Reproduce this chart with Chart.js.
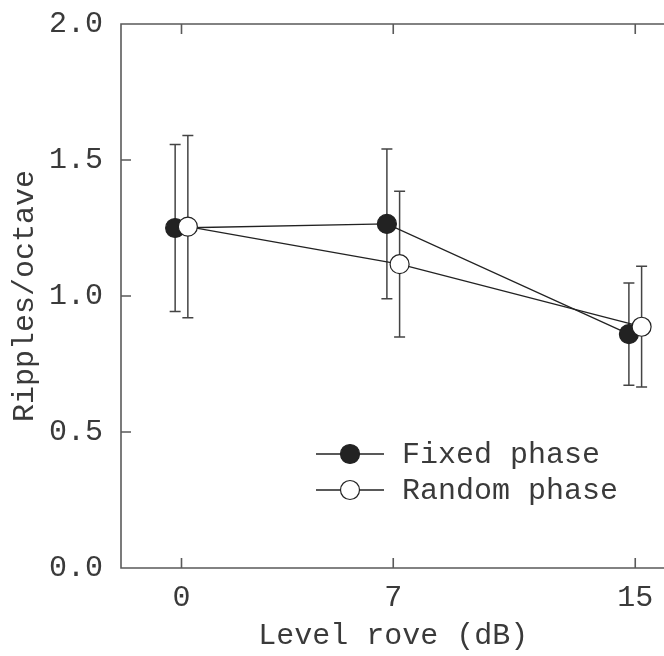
<!DOCTYPE html>
<html>
<head>
<meta charset="utf-8">
<title>Ripples/octave vs level rove</title>
<script src="https://cdn.jsdelivr.net/npm/chart.js@4.4.1/dist/chart.umd.min.js"></script>
<style>
    html, body { margin: 0; padding: 0; background: #fff; overflow: hidden; }
    #wrap { width: 680px; height: 656px; }
</style>
</head>
<body>
<div id="wrap"><canvas id="chart" width="680" height="656"></canvas></div>
<script>
// Level rove conditions (dB) and tick labels
const roveLevels = [0, 7, 15];
const xTickValues = [0, 7, 15];
const yTickValues = [0, 0.5, 1.0, 1.5, 2.0];

// Ripples/octave thresholds, means and error bar half-lengths
const fixedMean = [1.25, 1.265, 0.86];
const fixedErr = [0.307, 0.275, 0.188];
const randomMean = [1.255, 1.117, 0.887];
const randomErr = [0.335, 0.268, 0.222];

const seriesLabels = ['Fixed phase', 'Random phase'];

// small horizontal offset so the two series don't sit on top of each other
const jitter = 0.21;

const FONT = "'Liberation Mono', 'Courier New', monospace";
const TEXT = '#3a3a3a';
const AXIS = '#5a5a5a';
const INK = '#222';

function points(means, shift) {
    return roveLevels.map((x, i) => ({ x: x + shift, y: means[i] }));
}

// error bars, drawn under the markers
const errorBars = {
    id: 'errorBars',
    beforeDatasetsDraw(chart) {
        const { ctx, scales: { x, y } } = chart;
        const sets = [
            { mean: fixedMean, err: fixedErr, shift: -jitter },
            { mean: randomMean, err: randomErr, shift: jitter }
        ];
        ctx.save();
        ctx.strokeStyle = '#444';
        ctx.lineWidth = 1.5;
        sets.forEach(s => {
            roveLevels.forEach((lv, i) => {
                const px = x.getPixelForValue(lv + s.shift);
                const top = y.getPixelForValue(s.mean[i] + s.err[i]);
                const bot = y.getPixelForValue(s.mean[i] - s.err[i]);
                ctx.beginPath();
                ctx.moveTo(px, top); ctx.lineTo(px, bot);
                ctx.moveTo(px - 5.5, top); ctx.lineTo(px + 5.5, top);
                ctx.moveTo(px - 5.5, bot); ctx.lineTo(px + 5.5, bot);
                ctx.stroke();
            });
        });
        ctx.restore();
    }
};

// frame on left, bottom and top with inward ticks
const frame = {
    id: 'frame',
    beforeDatasetsDraw(chart) {
        const { ctx, chartArea: a, scales: { x, y } } = chart;
        const tick = 10;
        ctx.save();
        ctx.strokeStyle = AXIS;
        ctx.lineWidth = 1.6;
        ctx.beginPath();
        ctx.moveTo(a.right, a.top); ctx.lineTo(a.left, a.top);
        ctx.lineTo(a.left, a.bottom); ctx.lineTo(a.right, a.bottom);
        xTickValues.forEach(v => {
            const px = x.getPixelForValue(v);
            ctx.moveTo(px, a.bottom); ctx.lineTo(px, a.bottom - tick);
            ctx.moveTo(px, a.top); ctx.lineTo(px, a.top + tick);
        });
        yTickValues.forEach(v => {
            const py = y.getPixelForValue(v);
            ctx.moveTo(a.left, py); ctx.lineTo(a.left + tick, py);
        });
        ctx.stroke();
        ctx.restore();
    }
};

// legend inside the plot area, lower right
const insideLegend = {
    id: 'insideLegend',
    afterDraw(chart) {
        const { ctx } = chart;
        const rows = [
            { label: seriesLabels[0], fill: INK, y: 454 },
            { label: seriesLabels[1], fill: '#fff', y: 490 }
        ];
        ctx.save();
        ctx.font = '30px ' + FONT;
        ctx.textBaseline = 'middle';
        ctx.fillStyle = TEXT;
        rows.forEach(r => {
            ctx.strokeStyle = INK;
            ctx.lineWidth = 1.3;
            ctx.beginPath();
            ctx.moveTo(316, r.y); ctx.lineTo(384, r.y);
            ctx.stroke();
            ctx.beginPath();
            ctx.arc(350, r.y, 9.5, 0, Math.PI * 2);
            ctx.fillStyle = r.fill;
            ctx.fill();
            ctx.lineWidth = 1.2;
            ctx.stroke();
            ctx.fillStyle = TEXT;
            ctx.fillText(r.label, 402, r.y + 1);
        });
        ctx.restore();
    }
};

const ctx = document.getElementById('chart').getContext('2d');
new Chart(ctx, {
    type: 'line',
    data: {
        datasets: [
            {
                label: seriesLabels[1],
                data: points(randomMean, jitter),
                borderColor: INK,
                borderWidth: 1.3,
                pointRadius: 9.5,
                pointBackgroundColor: '#fff',
                pointBorderColor: INK,
                pointBorderWidth: 1.2,
                order: 0
            },
            {
                label: seriesLabels[0],
                data: points(fixedMean, -jitter),
                borderColor: INK,
                borderWidth: 1.3,
                pointRadius: 9.5,
                pointBackgroundColor: INK,
                pointBorderColor: INK,
                pointBorderWidth: 1.2,
                order: 1
            }
        ]
    },
    options: {
        responsive: false,
        animation: false,
        clip: false,
        layout: { padding: { top: 24, right: 14.5, bottom: 0, left: 0 } },
        plugins: {
            legend: { display: false },
            tooltip: { enabled: false }
        },
        scales: {
            x: {
                type: 'linear',
                min: -2,
                max: 16,
                afterBuildTicks: s => { s.ticks = xTickValues.map(v => ({ value: v })); },
                afterFit: s => { s.height = 88; s.paddingLeft = 0; s.paddingRight = 0; },
                grid: { display: false },
                border: { display: false },
                ticks: {
                    color: TEXT,
                    font: { family: FONT, size: 30 },
                    padding: 4,
                    maxRotation: 0
                },
                title: {
                    display: true,
                    text: 'Level rove (dB)',
                    color: TEXT,
                    font: { family: FONT, size: 30 },
                    padding: { top: 0, bottom: 2 }
                }
            },
            y: {
                min: 0,
                max: 2,
                afterBuildTicks: s => { s.ticks = yTickValues.map(v => ({ value: v })); },
                afterFit: s => { s.width = 121; s.paddingTop = 0; s.paddingBottom = 0; },
                grid: { display: false },
                border: { display: false },
                ticks: {
                    color: TEXT,
                    font: { family: FONT, size: 30 },
                    padding: 10,
                    callback: v => v.toFixed(1)
                },
                title: {
                    display: true,
                    text: 'Ripples/octave',
                    color: TEXT,
                    font: { family: FONT, size: 30 },
                    padding: { top: 7, bottom: 0 }
                }
            }
        }
    },
    plugins: [frame, errorBars, insideLegend]
});
</script>
</body>
</html>
